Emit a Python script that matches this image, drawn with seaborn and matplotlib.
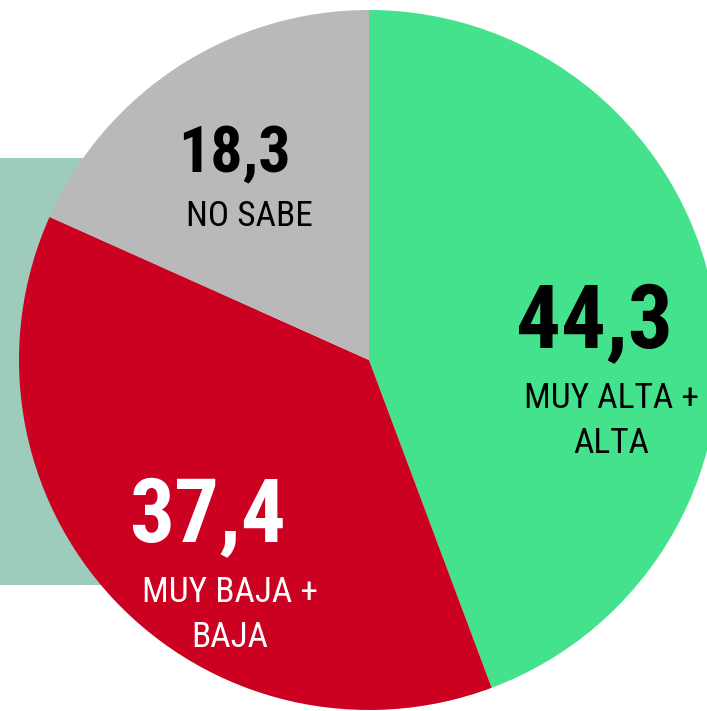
import matplotlib
matplotlib.use("Agg")
import matplotlib.pyplot as plt
import matplotlib.patches as mpatches
import seaborn as sns

# data
categories = ["MUY ALTA +\nALTA", "MUY BAJA +\nBAJA", "NO SABE"]
values = [44.3, 37.4, 18.3]
value_labels = ["44,3", "37,4", "18,3"]
colors = ["#45e28d", "#cc0020", "#b9b9b9"]

sns.set_theme(style="white")
plt.rcParams["font.family"] = ["Roboto Condensed", "Roboto", "DejaVu Sans"]

W, H = 707, 711
fig = plt.figure(figsize=(W / 100, H / 100), dpi=100)
ax = fig.add_axes([0, 0, 1, 1])

# teal panel behind the pie
ax.add_patch(mpatches.Rectangle((0, H - 585), 260, 585 - 158,
                                facecolor="#9dccbd", edgecolor="none", zorder=0))

cx, cy, r = 369, H - 360, 350
ax.pie(values, colors=colors, startangle=90, counterclock=False,
       center=(cx, cy), radius=r, frame=True,
       wedgeprops=dict(linewidth=0, zorder=1))
ax.set_xlim(0, W)
ax.set_ylim(0, H)
ax.set_aspect("equal")
ax.axis("off")

# label layout: (value x, label x, value baseline, first label baseline, value size), pixel coords
pos = [(594, 611, 348, 408, 64, "black"),
       (208, 230, 542, 602, 64, "white"),
       (234, 249, 172, 226, 46, "black")]
for (vx, lx, vy, ly, vs, col), vl, cat in zip(pos, value_labels, categories):
    ax.text(vx, H - vy, vl, ha="center", va="baseline", fontsize=vs,
            fontweight="bold", color=col, zorder=3)
    for i, line in enumerate(cat.split("\n")):
        ax.text(lx, H - (ly + i * 45), line, ha="center", va="baseline",
                fontsize=25.5, color=col, zorder=3)

fig.savefig("out.png", dpi=100)
